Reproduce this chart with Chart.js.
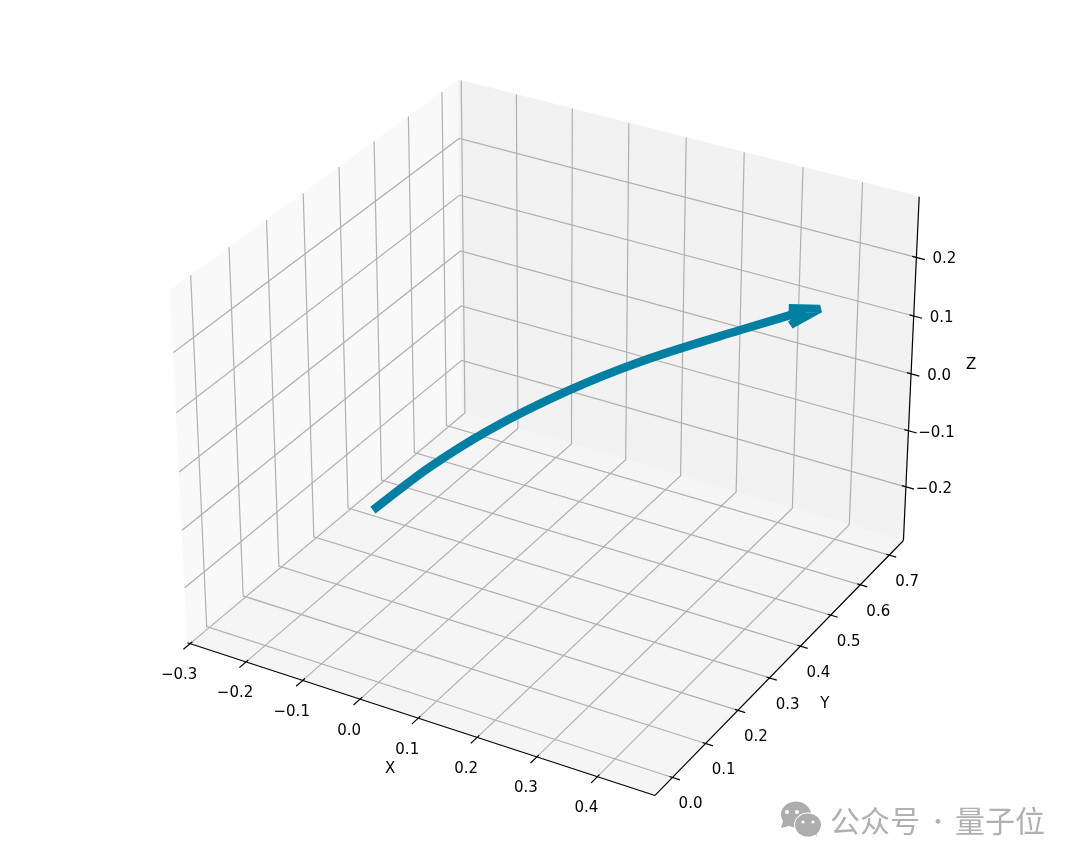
<!DOCTYPE html>
<html>
<head>
<meta charset="utf-8">
<title>3D arrow</title>
<script src="https://cdn.jsdelivr.net/npm/chart.js@4"></script>
<style>
    body { margin: 0; background: #fff; }
    #wrap { position: relative; width: 1080px; height: 864px; overflow: hidden; }
    #wrap canvas { display: block; }
    .mark { position: absolute; top: 799px; font: 30px/40px 'Noto Sans CJK SC', sans-serif; color: #b0b0b0; white-space: nowrap; }
    #wechat { position: absolute; left: 778px; top: 800px; }
</style>
</head>
<body>
<div id="wrap">
    <canvas id="chart" width="1080" height="864"></canvas>
    <svg id="wechat" width="46" height="40" viewBox="0 0 46 40">
        <path d="M3 28 L5 21 A15 13 0 1 1 11 26 Z" fill="#adadad"/>
        <ellipse cx="30" cy="25" rx="14" ry="12.5" fill="#fff"/>
        <ellipse cx="30" cy="25" rx="13" ry="11.5" fill="#adadad"/>
        <path d="M36 33 L39 37 L38 31 Z" fill="#adadad"/>
        <circle cx="9" cy="12" r="2" fill="#fff"/>
        <circle cx="19" cy="12" r="2" fill="#fff"/>
        <circle cx="25" cy="22" r="1.6" fill="#fff"/>
        <circle cx="35" cy="22" r="1.6" fill="#fff"/>
    </svg>
    <span class="mark" style="left:830px">公众号</span>
    <span class="mark" style="left:927px; font-size:22px">·</span>
    <span class="mark" style="left:955px">量子位</span>
</div>
<script>
// AXIS RANGES AND TICKS
const xLimits = [-0.305, 0.494];
const yLimits = [-0.052, 0.75];
const zLimits = [-0.297, 0.302];
const xTicks = [-0.3, -0.2, -0.1, 0.0, 0.1, 0.2, 0.3, 0.4];
const yTicks = [0.0, 0.1, 0.2, 0.3, 0.4, 0.5, 0.6, 0.7];
const zTicks = [-0.2, -0.1, 0.0, 0.1, 0.2];

// ARROW VALUES (data units)
const curveX = [-0.002, 0.0155, 0.048, 0.108, 0.171, 0.273, 0.342];
const curveY = [-0.002, 0.120, 0.240, 0.379, 0.482, 0.609, 0.688];
const curveZ = [0.000, 0.012, 0.026, 0.044, 0.060, 0.082, 0.097];
const headX = [0.319, 0.361, 0.346, 0.347];
const headY = [0.678, 0.700, 0.632, 0.669];
const headZ = [0.100, 0.100, 0.100, 0.100];

const ARROW = 'rgb(0, 127, 163)';
const GRID = '#b0b0b0';
const FONT = '15px "DejaVu Sans"';

// VIEW: elev 30, azim -60, distance 10, box aspect 4:4:3
const BOX = [1.1905, 1.1905, 0.8929];
const U = [0.866, 0.5, 0];
const V = [-0.25, 0.433, 0.866];
const W = [0.433, -0.75, 0.5];

function dot(a, b) {
    return a[0] * b[0] + a[1] * b[1] + a[2] * b[2];
}

function project(x, y, z) {
    const c = [
        ((x - xLimits[0]) / (xLimits[1] - xLimits[0]) - 0.5) * BOX[0],
        ((y - yLimits[0]) / (yLimits[1] - yLimits[0]) - 0.5) * BOX[1],
        ((z - zLimits[0]) / (zLimits[1] - zLimits[0]) - 0.5) * BOX[2]
    ];
    const d = 10 - dot(c, W);
    return { x: dot(c, U) / d, y: dot(c, V) / d };
}

function line3d(points, color, width, extra) {
    return Object.assign({
        data: points.map(p => project(p[0], p[1], p[2])),
        showLine: true,
        borderColor: color,
        borderWidth: width,
        pointRadius: 0,
        borderCapStyle: 'butt',
        tension: 0
    }, extra || {});
}

const [x0, x1] = xLimits;
const [y0, y1] = yLimits;
const [z0, z1] = zLimits;

// first dataset ends up on top
const datasets = [];

datasets.push(line3d(curveX.map((v, i) => [v, curveY[i], curveZ[i]]), ARROW, 8.5, { cubicInterpolationMode: 'monotone' }));
datasets.push(line3d(headX.map((v, i) => [v, headY[i], headZ[i]]), ARROW, 8, { borderJoinStyle: 'bevel' }));

// axis lines
datasets.push(line3d([[x0, y0, z0], [x1, y0, z0]], '#000', 1.2));
datasets.push(line3d([[x1, y0, z0], [x1, y1, z0]], '#000', 1.2));
datasets.push(line3d([[x1, y1, z0], [x1, y1, z1]], '#000', 1.2));

// tick marks
xTicks.forEach(t => datasets.push(line3d([[t, y0 - 0.018, z0], [t, y0 + 0.006, z0]], '#000', 1.2)));
yTicks.forEach(t => datasets.push(line3d([[x1 - 0.005, t, z0], [x1 + 0.012, t, z0]], '#000', 1.2)));
zTicks.forEach(t => datasets.push(line3d([[x1 - 0.007, y1, t], [x1 + 0.014, y1, t]], '#000', 1.2)));

// grid lines running over the panes
xTicks.forEach(t => datasets.push(line3d([[t, y0, z0], [t, y1, z0], [t, y1, z1]], GRID, 1.2)));
yTicks.forEach(t => datasets.push(line3d([[x1, t, z0], [x0, t, z0], [x0, t, z1]], GRID, 1.2)));
zTicks.forEach(t => datasets.push(line3d([[x1, y1, t], [x0, y1, t], [x0, y0, t]], GRID, 1.2)));

const panes = [
    { color: '#f9f9f9', corners: [[x0, y0, z0], [x0, y1, z0], [x0, y1, z1], [x0, y0, z1]] },
    { color: '#f2f2f2', corners: [[x0, y1, z0], [x1, y1, z0], [x1, y1, z1], [x0, y1, z1]] },
    { color: '#f5f5f5', corners: [[x0, y0, z0], [x1, y0, z0], [x1, y1, z0], [x0, y1, z0]] }
];

function tickText(v) {
    return v.toFixed(1).replace('-', '\u2212');
}

// PANES AND TEXT, placed through the chart scales
const scenePlugin = {
    id: 'scene',
    beforeDatasetsDraw(chart) {
        const { ctx, scales } = chart;
        ctx.save();
        panes.forEach(pane => {
            ctx.beginPath();
            pane.corners.forEach(c => {
                const p = project(c[0], c[1], c[2]);
                ctx.lineTo(scales.x.getPixelForValue(p.x), scales.y.getPixelForValue(p.y));
            });
            ctx.closePath();
            ctx.fillStyle = pane.color;
            ctx.fill();
            ctx.strokeStyle = pane.color;
            ctx.lineWidth = 1;
            ctx.stroke();
        });
        ctx.restore();
    },
    afterDatasetsDraw(chart) {
        const { ctx, scales } = chart;
        const put = (text, c, dx, dy) => {
            const p = project(c[0], c[1], c[2]);
            ctx.fillText(text, scales.x.getPixelForValue(p.x) + dx, scales.y.getPixelForValue(p.y) + dy);
        };
        ctx.save();
        ctx.font = FONT;
        ctx.fillStyle = '#000';
        ctx.textAlign = 'center';
        ctx.textBaseline = 'middle';
        xTicks.forEach(t => put(tickText(t), [t, y0, z0], -11, 31.5));
        yTicks.forEach(t => put(tickText(t), [x1, t, z0], 18, 27));
        zTicks.forEach(t => put(tickText(t), [x1, y1, t], 28, 2));
        put('X', [(x0 + x1) / 2, y0, z0], -25, 52);
        put('Y', [x1, (y0 + y1) / 2, z0], 40, 42);
        put('Z', [x1, y1, (z0 + z1) / 2], 60, -7);
        ctx.restore();
    }
};

const chart = new Chart(document.getElementById('chart'), {
    type: 'scatter',
    data: { datasets: datasets },
    plugins: [scenePlugin],
    options: {
        responsive: false,
        animation: false,
        layout: { padding: 0 },
        plugins: {
            legend: { display: false },
            tooltip: { enabled: false }
        },
        scales: {
            x: { type: 'linear', display: false, min: -0.12267, max: 0.11733 },
            y: { type: 'linear', display: false, min: -0.09856, max: 0.09344 }
        }
    }
});
</script>
</body>
</html>
